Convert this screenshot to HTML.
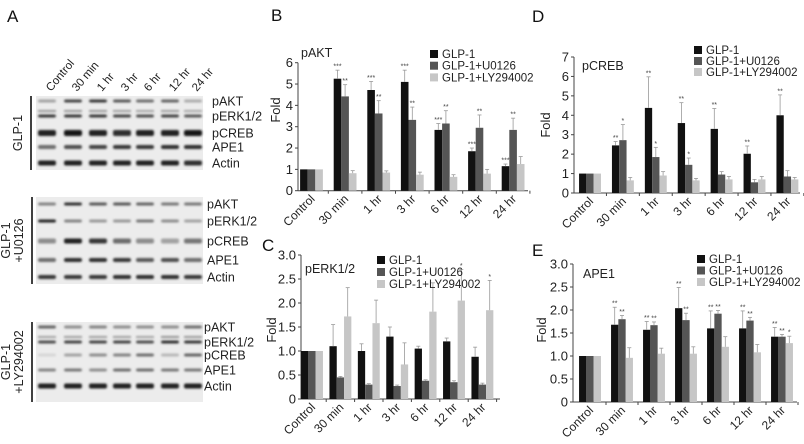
<!DOCTYPE html>
<html><head><meta charset="utf-8"><style>
html,body{margin:0;padding:0;background:#fff}
svg{display:block;font-family:"Liberation Sans",Arial,sans-serif}
</style></head><body>
<svg id="fig" width="804" height="444" viewBox="0 0 804 444" xmlns="http://www.w3.org/2000/svg">
<defs><filter id="blur" x="-20%" y="-100%" width="140%" height="300%"><feGaussianBlur stdDeviation="1.1"/></filter></defs>
<g id="blots"></g>
<g id="charts"></g>
</svg>
<script>
const categories=["Control","30 min","1 hr","3 hr","6 hr","12 hr","24 hr"];
const seriesNames=["GLP-1","GLP-1+U0126","GLP-1+LY294002"];
// pAKT (B)
const aktGLP=[1,5.25,4.72,5.1,2.85,1.85,1.15];
const aktU=[1,4.42,3.62,3.32,3.15,2.95,2.85];
const aktLY=[1,0.82,0.85,0.75,0.65,0.8,1.25];
const aktErrGLP=[0,0.4,0.4,0.55,0.3,0.15,0.1];
const aktErrU=[0,0.55,0.6,0.6,0.6,0.6,0.55];
const aktErrLY=[0,0.12,0.08,0.12,0.1,0.2,0.35];
const aktStarsGLP=["","***","***","***","***","***","***"];
const aktStarsU=["","**","**","**","**","**","**"];
const aktTicks=["0","1","2","3","4","5","6"];
// pCREB (D)
const crebGLP=[1,2.45,4.38,3.6,3.3,2.02,4.0];
const crebU=[1,2.72,1.85,1.45,0.95,0.55,0.85];
const crebLY=[1,0.65,0.9,0.65,0.7,0.7,0.7];
const crebErrGLP=[0,0.2,1.6,1.05,1.05,0.4,1.05];
const crebErrU=[0,0.8,0.5,0.35,0.15,0.15,0.3];
const crebErrLY=[0,0.15,0.2,0.1,0.15,0.15,0.1];
const crebStarsGLP=["","**","**","**","**","**","**"];
const crebStarsU=["","*","*","*","","",""];
const crebTicks=["0","1","2","3","4","5","6","7"];
// pERK1/2 (C)
const erkGLP=[1,1.1,1.0,1.3,1.05,1.2,0.88];
const erkU=[1,0.45,0.3,0.27,0.38,0.35,0.3];
const erkLY=[1,1.72,1.58,0.72,1.82,2.05,1.85];
const erkErrGLP=[0,0.45,0.15,0.2,0.05,0.07,0.2];
const erkErrU=[0,0.02,0.02,0.02,0.02,0.03,0.03];
const erkErrLY=[0,0.6,0.48,0.45,0.6,0.65,0.62];
const erkStarsLY=["","","","","","*","*"];
const erkTicks=["0","0.5","1.0","1.5","2.0","2.5","3.0"];
// APE1 (E)
const apeGLP=[1,1.68,1.57,2.04,1.6,1.6,1.42];
const apeU=[1,1.8,1.67,1.78,1.92,1.77,1.42];
const apeLY=[1,0.96,1.05,1.05,1.2,1.08,1.28];
const apeErrGLP=[0,0.38,0.18,0.45,0.38,0.38,0.2];
const apeErrU=[0,0.08,0.07,0.15,0.07,0.07,0.05];
const apeErrLY=[0,0.22,0.12,0.15,0.22,0.17,0.15];
const apeStarsGLP=["","**","**","**","**","**","**"];
const apeStarsU=["","**","**","**","**","**","**"];
const apeStarsLY=["","","","","","","*"];
const apeTicks=["0","0.5","1.0","1.5","2.0","2.5","3.0"];

const NS="http://www.w3.org/2000/svg";
function mk(tag,attrs,parent,txt){const e=document.createElementNS(NS,tag);for(const k in attrs)e.setAttribute(k,attrs[k]);if(txt!==undefined)e.textContent=txt;parent.appendChild(e);return e;}
const colors=["#111111","#555555","#c6c6c6"];
const charts=document.getElementById('charts');

function drawChart(c){
  const g=mk('g',{},charts);
  
  
  const ymax=c.ymax;
  const y=v=>c.y0-(v/ymax)*(c.y0-c.yTop);
  const xc=i=>c.first+i*c.spacing;
  const ax=mk('line',{x1:c.x0,y1:c.yTop,x2:c.x0,y2:c.y0,stroke:'#444','stroke-width':1},g);
  
  const bx=mk('line',{x1:c.x0,y1:c.y0,x2:c.right,y2:c.y0,stroke:'#444','stroke-width':1},g);
  
  c.ticks.forEach((t,i)=>{
    const v=i*c.step, yy=y(v);
    mk('line',{x1:c.x0-3,y1:yy,x2:c.x0,y2:yy,stroke:'#444'},g);
    const tl=mk('text',{x:c.x0-5,y:yy+4.5,'text-anchor':'end','font-size':13,fill:'#222'},g,t);
    
  });
  for(let i=1;i<=categories.length;i++){
    const xx=c.first-c.spacing/2+i*c.spacing;
    mk('line',{x1:xx,y1:c.y0,x2:xx,y2:c.y0+3,stroke:'#444'},g);
  }
  categories.forEach((cat,i)=>{
    const cx=xc(i)+4, cy=c.y0+9;
    const t=mk('text',{x:cx,y:cy,'text-anchor':'end','font-size':12,fill:'#222',transform:`rotate(-45 ${cx} ${cy})`},g,cat);
    
  });
  const yt=mk('text',{x:c.foldX,y:c.foldY,'text-anchor':'middle','font-size':13,fill:'#222',transform:`rotate(-90 ${c.foldX} ${c.foldY})`},g,'Fold');
  
  const tt=mk('text',{x:c.titleX,y:c.titleY,'font-size':12.5,fill:'#222'},g,c.title);
  
  const bw=c.bw;
  c.series.forEach((s,si)=>{
    s.forEach((v,i)=>{
      const x=xc(i)-1.5*bw+si*bw;
      const r=mk('rect',{x:x,y:y(v),width:bw,height:c.y0-y(v),fill:colors[si]},g);
      
      
      const e=c.errs[si][i];
      if(e>0){
        const mx=x+bw/2;
        const el=mk('line',{x1:mx,y1:y(v),x2:mx,y2:y(v+e),stroke:'#999','stroke-width':0.8},g);
        
        mk('line',{x1:mx-2,y1:y(v+e),x2:mx+2,y2:y(v+e),stroke:'#999','stroke-width':0.8},g);
      }
      const st=c.stars[si]?c.stars[si][i]:"";
      if(st){
        const sl=mk('text',{x:x+bw/2,y:y(v+e)-1.5,'text-anchor':'middle','font-size':7,fill:'#444'},g,st);
        
      }
    });
  });
  seriesNames.forEach((n,si)=>{
    const ly=c.legY+si*c.legStep;
    const sw=mk('rect',{x:c.legX,y:ly-8,width:8,height:8,fill:colors[si]},g);
    
    const lt=mk('text',{x:c.legX+12,y:ly,'font-size':11.5,fill:'#222'},g,n);
    
  });
  const pl=mk('text',{x:c.letterX,y:c.letterY,'font-size':17,fill:'#111'},g,c.letter);
  
}

drawChart({name:'pakt-chart',letter:'B',letterX:271,letterY:21,title:'pAKT',titleX:301,titleY:57,
 x0:298,right:528,y0:190.7,yTop:62.7,ymax:6,step:1,ticks:aktTicks,first:311.5,spacing:33.6,bw:7.6,
 foldX:280,foldY:110,legX:430,legY:58,legStep:11.7,
 series:[aktGLP,aktU,aktLY],errs:[aktErrGLP,aktErrU,aktErrLY],stars:[aktStarsGLP,aktStarsU,null]});
drawChart({name:'pcreb-chart',letter:'D',letterX:532,letterY:22,title:'pCREB',titleX:582,titleY:70,
 x0:574,right:800,y0:193,yTop:57,ymax:7,step:1,ticks:crebTicks,first:590,spacing:32.9,bw:7.3,
 foldX:550,foldY:125,legX:694,legY:54,legStep:11,
 series:[crebGLP,crebU,crebLY],errs:[crebErrGLP,crebErrU,crebErrLY],stars:[crebStarsGLP,crebStarsU,null]});
drawChart({name:'perk-chart',letter:'C',letterX:262,letterY:251,title:'pERK1/2',titleX:305,titleY:273,
 x0:301,right:500,y0:399,yTop:255,ymax:3,step:0.5,ticks:erkTicks,first:312,spacing:28.4,bw:7.3,
 foldX:276,foldY:330,legX:377,legY:264,legStep:12,
 series:[erkGLP,erkU,erkLY],errs:[erkErrGLP,erkErrU,erkErrLY],stars:[null,null,erkStarsLY]});
drawChart({name:'ape1-chart',letter:'E',letterX:532,letterY:256,title:'APE1',titleX:583,titleY:278,
 x0:573,right:797,y0:402,yTop:264,ymax:3,step:0.5,ticks:apeTicks,first:590,spacing:32,bw:7.3,
 foldX:546,foldY:330,legX:697,legY:263,legStep:11.5,
 series:[apeGLP,apeU,apeLY],errs:[apeErrGLP,apeErrU,apeErrLY],stars:[apeStarsGLP,apeStarsU,apeStarsLY]});

// Western blots
const blots=document.getElementById('blots');
const laneX=[47,73,98,122,145,170,193];
const lanes=["Control","30 min","1 hr","3 hr","6 hr","12 hr","24 hr"];
const pl=mk('text',{x:7,y:22,'font-size':17,fill:'#111'},blots,'A');

lanes.forEach((l,i)=>{
  const x=laneX[i]+4,yy=92;
  const t=mk('text',{x:x,y:yy,'font-size':11.5,fill:'#222',transform:`rotate(-50 ${x} ${yy})`},blots,l);
  
});
const groups=[
 {name:'glp1',label:['GLP-1'],top:96,bot:170,barX:31,labX:212,lx:22,
  rows:[{n:'pAKT',y:101,h:3,d:[0.35,0.8,0.85,0.7,0.6,0.65,0.3]},
        {n:'pERK1/2',y:116,h:3,d:[0.85,0.85,0.85,0.8,0.75,0.8,0.7],y2:111},
        {n:'pCREB',y:133,h:6,d:[0.95,1,0.95,0.9,0.95,0.95,1]},
        {n:'APE1',y:147,h:4,d:[0.6,0.75,0.8,0.85,0.85,0.9,0.9]},
        {n:'Actin',y:163,h:5,d:[0.95,0.95,0.95,0.95,0.95,0.95,0.9]}]},
 {name:'glp1-u0126',label:['GLP-1','+U0126'],top:197,bot:284,barX:32,labX:207,lx:10,
  rows:[{n:'pAKT',y:204,h:3,d:[0.5,0.9,0.7,0.7,0.65,0.55,0.55]},
        {n:'pERK1/2',y:221,h:3,d:[0.95,0.5,0.4,0.4,0.55,0.45,0.35],y2:0},
        {n:'pCREB',y:241,h:5,d:[0.45,0.95,0.85,0.6,0.45,0.35,0.55]},
        {n:'APE1',y:260,h:4,d:[0.6,0.9,0.9,0.85,0.7,0.75,0.6]},
        {n:'Actin',y:277,h:4,d:[0.85,0.85,0.85,0.9,0.9,0.9,0.85]}]},
 {name:'glp1-ly294002',label:['GLP-1','+LY294002'],top:322,bot:402,barX:32,labX:204,lx:10,
  rows:[{n:'pAKT',y:327,h:3,d:[0.65,0.45,0.5,0.45,0.45,0.45,0.6]},
        {n:'pERK1/2',y:342,h:3,d:[0.75,0.8,0.8,0.8,0.75,0.9,0.85],y2:337},
        {n:'pCREB',y:355,h:3,d:[0.1,0.35,0.45,0.5,0.6,0.25,0.65]},
        {n:'APE1',y:370,h:3,d:[0.5,0.55,0.45,0.6,0.6,0.55,0.55]},
        {n:'Actin',y:386,h:5,d:[0.95,0.95,0.95,0.95,0.95,0.95,0.95]}]}
];
groups.forEach(gr=>{
  const g=mk('g',{},blots);
  
  
  mk('rect',{x:36,y:gr.top,width:167,height:gr.bot-gr.top,fill:'#ececec'},g);
  mk('line',{x1:gr.barX,y1:gr.top,x2:gr.barX,y2:gr.bot,stroke:'#111','stroke-width':1.6},g);
  gr.rows.forEach(r=>{
    r.d.forEach((v,i)=>{
      const c=Math.round(235-v*210);
      mk('rect',{x:laneX[i]-9,y:r.y-r.h/2,width:18,height:r.h,rx:2,fill:`rgb(${c},${c},${c})`,filter:'url(#blur)'},g);
      if(r.y2){const c2=Math.round(235-v*100);mk('rect',{x:laneX[i]-9,y:r.y2-1,width:18,height:2,fill:`rgb(${c2},${c2},${c2})`,filter:'url(#blur)'},g);}
    });
    const t=mk('text',{x:gr.labX,y:r.y+4.5,'font-size':12.5,fill:'#222'},g,r.n);
    
  });
  const cy=(gr.top+gr.bot)/2;
  gr.label.forEach((l,k)=>{
    const x=gr.lx+k*13;
    const t=mk('text',{x:x,y:cy,'text-anchor':'middle','font-size':12.5,fill:'#222',transform:`rotate(-90 ${x} ${cy})`},g,l);
    
  });
});
</script>
</body></html>
